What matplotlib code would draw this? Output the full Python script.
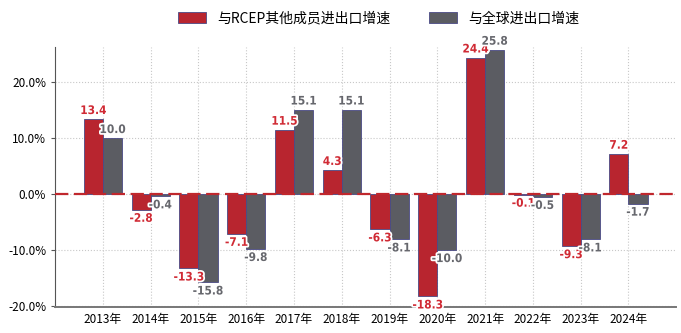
import numpy as np
import matplotlib
matplotlib.use("Agg")
import matplotlib.pyplot as plt
import matplotlib.patheffects as pe

plt.rcParams["font.family"] = ["Noto Sans CJK SC", "DejaVu Sans"]
plt.rcParams["axes.unicode_minus"] = False

# 数据
years = ["2013年", "2014年", "2015年", "2016年", "2017年", "2018年",
         "2019年", "2020年", "2021年", "2022年", "2023年", "2024年"]
rcep = [13.4, -2.8, -13.3, -7.1, 11.5, 4.3, -6.3, -18.3, 24.4, -0.1, -9.3, 7.2]
world = [10.0, -0.4, -15.8, -9.8, 15.1, 15.1, -8.1, -10.0, 25.8, -0.5, -8.1, -1.7]
names = ["与RCEP其他成员进出口增速", "与全球进出口增速"]

RED = "#b8252f"
GREY = "#5b5c62"
EDGE = "#4a4a86"

fig = plt.figure(figsize=(6.81, 3.33), dpi=100)
ax = fig.add_axes([0.081, 0.078, 0.912, 0.781])

x = np.arange(len(years))
w = 0.4
b1 = ax.bar(x - w / 2, rcep, w, color=RED, edgecolor=EDGE, lw=0.6,
            label=names[0], zorder=3)
b2 = ax.bar(x + w / 2, world, w, color=GREY, edgecolor=EDGE, lw=0.6,
            label=names[1], zorder=3)

ax.axhline(0, color="#c0272d", lw=1.6, ls=(0, (6, 2.5)), zorder=4)

stroke = [pe.withStroke(linewidth=2.5, foreground="white")]
for bars, vals, col in [(b1, rcep, "#d02a34"), (b2, world, "#66676d")]:
    for r, v in zip(bars, vals):
        xc = r.get_x() + r.get_width() / 2
        off = 1.5 if v >= 0 else -1.5
        ax.annotate(f"{v:.1f}", (xc, v), xytext=(0, off), textcoords="offset points",
                    ha="center", va="bottom" if v >= 0 else "top",
                    fontsize=8.5, fontweight="bold", color=col,
                    path_effects=stroke, zorder=6, annotation_clip=False,
                    family=["DejaVu Sans"], fontstretch="condensed")

ax.set_xlim(-1, 12)
ax.set_ylim(-20.2, 26.3)
ax.set_xticks(x)
ax.set_xticklabels(years, fontsize=8.5)
ax.set_yticks([-20, -10, 0, 10, 20])
ax.set_yticklabels([f"{t:.1f}%" for t in [-20, -10, 0, 10, 20]], fontsize=8.5)
ax.tick_params(axis="x", length=0, pad=4)
ax.tick_params(axis="y", length=3, color="#555555")
ax.grid(True, ls=":", color="#c8c8c8", lw=0.8, zorder=0)
for s in ["top", "right"]:
    ax.spines[s].set_visible(False)
ax.spines["left"].set_color("#555555")
ax.spines["bottom"].set_color("#777777")
ax.spines["bottom"].set_linewidth(1.4)

fig.legend(handles=[b1, b2], loc="center", bbox_to_anchor=(0.556, 0.945),
           ncol=2, frameon=False, fontsize=10, handlelength=2.0,
           handleheight=0.8, columnspacing=2.8, handletextpad=0.8)

fig.savefig("out.png", dpi=100)
